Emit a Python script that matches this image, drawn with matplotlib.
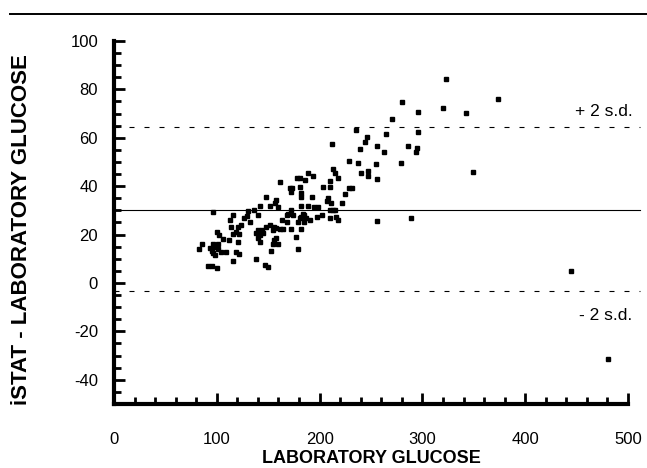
import matplotlib
matplotlib.use('Agg')
import matplotlib.pyplot as plt
from matplotlib.ticker import MultipleLocator
from matplotlib.lines import Line2D

# laboratory glucose vs (iSTAT - laboratory) difference
lab_glucose = [
    83, 86, 91, 93, 95, 95, 96, 96, 96, 97,
    98, 100, 100, 101, 101, 102, 104, 106, 109, 112,
    113, 114, 116, 116, 116, 119, 119, 121, 121, 122,
    122, 124, 126, 129, 130, 132, 136, 138, 138, 140,
    140, 142, 142, 140, 142, 144, 145, 148, 148, 147,
    152, 152, 150, 153, 155, 155, 156, 156, 158, 158,
    158, 157, 160, 160, 161, 161, 163, 164, 168, 168,
    169, 171, 172, 172, 172, 173, 174, 177, 178, 179,
    179, 181, 181, 182, 181, 182, 182, 182, 182, 184,
    185, 185, 186, 187, 189, 189, 191, 193, 194, 195,
    197, 198, 202, 203, 207, 208, 210, 210, 210, 210,
    211, 212, 213, 213, 215, 215, 216, 218, 218, 222,
    225, 229, 229, 232, 235, 237, 239, 240, 244, 246,
    247, 247, 255, 256, 256, 256, 263, 265, 270, 279,
    280, 286, 289, 294, 295, 296, 296, 320, 323, 342,
    349, 374, 445, 481,
]
difference = [
    14.1, 16.3, 7.0, 14.3, 13.3, 7.0, 29.2, 16.1, 12.3, 14.7,
    11.6, 21.2, 6.0, 16.3, 13.9, 19.9, 12.9, 18.0, 12.9, 17.8,
    26.0, 23.0, 28.3, 20.2, 9.2, 21.2, 12.9, 23.0, 17.0, 20.2,
    12.0, 24.0, 26.7, 27.7, 29.7, 25.3, 30.2, 20.8, 9.9, 21.9,
    28.1, 19.9, 31.9, 18.5, 17.0, 21.9, 20.5, 35.4, 23.3, 7.5,
    24.0, 31.9, 6.5, 13.2, 21.9, 16.3, 23.3, 17.7, 22.6, 18.5,
    34.3, 33.2, 31.2, 16.1, 41.9, 22.2, 26.0, 22.2, 28.1, 25.0,
    28.7, 39.1, 30.2, 22.2, 37.4, 39.1, 28.1, 19.2, 43.5, 25.3,
    14.0, 26.7, 43.2, 31.9, 39.6, 37.0, 35.7, 27.4, 22.2, 28.7,
    28.1, 25.3, 42.6, 26.7, 31.9, 45.3, 26.0, 35.4, 44.3, 31.3,
    27.2, 31.3, 28.1, 39.6, 34.0, 35.0, 30.2, 42.2, 27.0, 39.8,
    33.2, 57.6, 47.1, 30.2, 45.3, 30.2, 27.2, 43.5, 26.0, 33.2,
    36.7, 50.4, 39.4, 39.4, 63.4, 49.4, 55.3, 45.3, 58.4, 60.4,
    46.3, 44.2, 49.1, 56.6, 42.8, 25.8, 54.3, 61.5, 67.6, 49.4,
    74.9, 56.6, 26.7, 54.3, 55.6, 70.5, 62.5, 72.3, 84.1, 70.3,
    45.8, 75.9, 4.8, -31.4,
]

mean_diff = 30.3
plus_2sd = 64.6
minus_2sd = -3.2

plt.rcParams['font.family'] = ['Liberation Sans', 'DejaVu Sans']

fig = plt.figure(figsize=(6.47, 4.68), dpi=100)
ax = fig.add_axes([0.1762, 0.1368, 0.7944, 0.7756])

ax.plot(lab_glucose, difference, 's', color='black', markersize=3.2, clip_on=False)

# mean and +/- 2 s.d. lines run past the end of the axis
ax.plot([0, 512], [mean_diff, mean_diff], color='black', lw=0.8, clip_on=False)
ax.plot([0, 512], [plus_2sd, plus_2sd], color='black', lw=0.8, ls=(0, (4.5, 9)), clip_on=False)
ax.plot([0, 512], [minus_2sd, minus_2sd], color='black', lw=0.8, ls=(0, (4.5, 9)), clip_on=False)

ax.text(505, 70.7, '+ 2 s.d.', ha='right', va='center', fontsize=12.5)
ax.text(504, -13.6, '- 2 s.d.', ha='right', va='center', fontsize=12.5)

ax.set_xlim(0, 500)
ax.set_ylim(-50, 100)
ax.spines[['top', 'right']].set_visible(False)
ax.spines[['left', 'bottom']].set_linewidth(3)

ax.xaxis.set_major_locator(MultipleLocator(100))
ax.xaxis.set_minor_locator(MultipleLocator(20))
ax.yaxis.set_minor_locator(MultipleLocator(5))
ax.set_yticks(range(-40, 101, 20))
ax.set_yticklabels(['-40', '-20', '0', '20', '40', '60', '80', '100'])

ax.tick_params(which='both', direction='in', width=2, colors='black')
ax.tick_params(which='major', length=8)
ax.tick_params(which='minor', length=5)
ax.tick_params(axis='x', which='major', pad=20, labelsize=12)
ax.tick_params(axis='y', which='major', pad=11.5, labelsize=12)

ax.set_xlabel('LABORATORY GLUCOSE', fontsize=13, fontweight='bold')
ax.xaxis.set_label_coords(0.5, -0.127)
ax.set_ylabel('iSTAT - LABORATORY GLUCOSE', fontsize=16, fontweight='bold')
ax.yaxis.set_label_coords(-0.16, 0.48)

# rule across the top of the page
fig.add_artist(Line2D([0.015, 1.0], [1 - 14 / 468] * 2, transform=fig.transFigure,
                      color='black', lw=1.4))

fig.savefig('out.png', dpi=100)
